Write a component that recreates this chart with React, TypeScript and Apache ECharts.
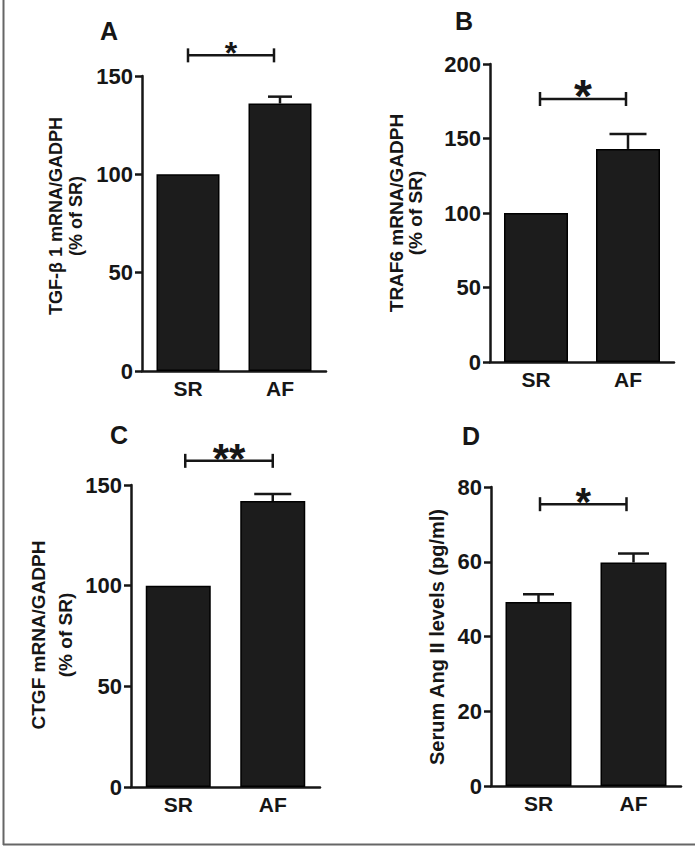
import React, { useEffect, useRef } from "react";
import * as echarts from "echarts";

// ---------- data ----------
const categories = ["SR", "AF"];
const panelLetters = ["A", "B", "C", "D"];
const yTitles = [
  "TGF-β 1 mRNA/GADPH\n(% of SR)",
  "TRAF6 mRNA/GADPH\n(% of SR)",
  "CTGF mRNA/GADPH\n(% of SR)",
  "Serum Ang II levels (pg/ml)",
];
const tgfMeans = [100, 136];
const tgfErr = [0, 3.5];
const traf6Means = [100, 143];
const traf6Err = [0, 10];
const ctgfMeans = [100, 142];
const ctgfErr = [0, 3.5];
const angMeans = [49.2, 59.8];
const angErr = [2.1, 2.4];
const yMax = [150, 200, 150, 80];
const yInterval = [50, 50, 50, 20];
const sigLabels = ["*", "*", "**", "*"];
const sigHeights = [160.5, 176.5, 162, 75.4];

const allMeans = [tgfMeans, traf6Means, ctgfMeans, angMeans];
const allErr = [tgfErr, traf6Err, ctgfErr, angErr];

// ---------- layout / style ----------
const FONT = "'Liberation Sans', Arial, Helvetica, sans-serif";
const INK = "#161616";
const grids = [
  { left: 142, top: 76, width: 184, height: 295 },
  { left: 490, top: 64, width: 184, height: 298 },
  { left: 131, top: 485, width: 189, height: 302 },
  { left: 491, top: 487, width: 190, height: 299 },
];
const barWidths = [63, 64, 65, 66];
const capWidths = [24, 37, 37, 31];
const bracketInsetL = [0, 4, 7, 1.5];
const bracketInsetR = [6, 2, 0, 7];
const starSizes = [32, 46, 42, 40];
const starGap = [10, 14, 12.5, 11];
const letterPos = [
  [109, 31],
  [464, 21],
  [119, 435],
  [471, 436],
];
const titlePos = [
  { x: 66, y: 216, lh: 20, fs: 18 },
  { x: 406, y: 213, lh: 19, fs: 19 },
  { x: 52, y: 635, lh: 27, fs: 19 },
  { x: 437, y: 637, lh: 20, fs: 20 },
];

export default function App() {
  const ref = useRef<HTMLDivElement>(null);
  useEffect(() => {
    if (!ref.current) return;
    const chart = echarts.init(ref.current, null, { renderer: "svg" });

    const xAxis: any[] = [];
    const yAxis: any[] = [];
    const series: any[] = [];
    const graphic: any[] = [];

    grids.forEach((g, i) => {
      xAxis.push({
        type: "category",
        gridIndex: i,
        data: categories,
        axisLine: { lineStyle: { color: INK, width: 2.5 } },
        axisTick: { alignWithLabel: true, length: 8, lineStyle: { color: INK, width: 2.5 } },
        axisLabel: { color: INK, fontFamily: FONT, fontWeight: "bold", fontSize: 21, margin: 7 },
        splitLine: { show: false },
      });
      yAxis.push({
        type: "value",
        gridIndex: i,
        min: 0,
        max: yMax[i],
        interval: yInterval[i],
        axisLine: { show: true, lineStyle: { color: INK, width: 2.5 } },
        axisTick: { show: true, length: 7, lineStyle: { color: INK, width: 2.5 } },
        axisLabel: { color: INK, fontFamily: FONT, fontWeight: "bold", fontSize: 22, margin: 9 },
        splitLine: { show: false },
      });
      series.push({
        type: "bar",
        xAxisIndex: i,
        yAxisIndex: i,
        data: allMeans[i],
        barWidth: barWidths[i],
        itemStyle: { color: "#1c1c1c", borderColor: "#000", borderWidth: 1.5 },
        z: 2,
      });
      const capW = capWidths[i];
      series.push({
        type: "custom",
        xAxisIndex: i,
        yAxisIndex: i,
        clip: false,
        z: 3,
        data: allMeans[i].map((m, k) => [k, m, allErr[i][k]]),
        encode: { x: 0, y: 1 },
        renderItem: (params: any, api: any) => {
          const k = api.value(0);
          const m = api.value(1);
          const e = api.value(2);
          if (!e) return { type: "group", children: [] };
          const base = api.coord([k, m]);
          const top = api.coord([k, m + e]);
          const st = { stroke: INK, lineWidth: 2.5 };
          return {
            type: "group",
            children: [
              { type: "line", shape: { x1: base[0], y1: base[1], x2: top[0], y2: top[1] }, style: st },
              { type: "line", shape: { x1: top[0] - capW / 2, y1: top[1], x2: top[0] + capW / 2, y2: top[1] }, style: st },
            ],
          };
        },
      });
      const inL = bracketInsetL[i];
      const inR = bracketInsetR[i];
      const fs = starSizes[i];
      const gap = starGap[i];
      series.push({
        type: "custom",
        xAxisIndex: i,
        yAxisIndex: i,
        clip: false,
        z: 3,
        data: [[0, 1, sigHeights[i]]],
        renderItem: (params: any, api: any) => {
          const h = api.value(2);
          const p0 = api.coord([api.value(0), h]);
          const p1 = api.coord([api.value(1), h]);
          const x0 = p0[0] + inL;
          const x1 = p1[0] - inR;
          const y = p0[1];
          const st = { stroke: INK, lineWidth: 2.5 };
          return {
            type: "group",
            children: [
              { type: "line", shape: { x1: x0, y1: y, x2: x1, y2: y }, style: st },
              { type: "line", shape: { x1: x0, y1: y - 7, x2: x0, y2: y + 7 }, style: st },
              { type: "line", shape: { x1: x1, y1: y - 7, x2: x1, y2: y + 7 }, style: st },
              {
                type: "text",
                x: (x0 + x1) / 2,
                y: y - gap + 0.23 * fs,
                style: {
                  text: sigLabels[i],
                  fill: INK,
                  font: `bold ${fs}px ${FONT}`,
                  align: "center",
                  verticalAlign: "middle",
                },
              },
            ],
          };
        },
      });

      graphic.push({
        type: "text",
        x: letterPos[i][0],
        y: letterPos[i][1],
        style: {
          text: panelLetters[i],
          fill: INK,
          font: `bold 25px ${FONT}`,
          align: "center",
          verticalAlign: "middle",
        },
      });
      const tp = titlePos[i];
      graphic.push({
        type: "text",
        x: tp.x,
        y: tp.y,
        rotation: Math.PI / 2,
        style: {
          text: yTitles[i],
          fill: INK,
          font: `bold ${tp.fs}px ${FONT}`,
          lineHeight: tp.lh,
          align: "center",
          verticalAlign: "middle",
        },
      });
    });

    graphic.push({
      type: "line",
      shape: { x1: 3.5, y1: 0, x2: 3.5, y2: 845 },
      style: { stroke: "#666", lineWidth: 2 },
    });
    graphic.push({
      type: "line",
      shape: { x1: 3, y1: 844.5, x2: 695, y2: 844.5 },
      style: { stroke: "#666", lineWidth: 2 },
    });

    chart.setOption({
      animation: false,
      backgroundColor: "#ffffff",
      grid: grids.map((g) => ({ ...g, containLabel: false })),
      xAxis,
      yAxis,
      series,
      graphic,
    });
    return () => chart.dispose();
  }, []);

  return (
    <div
      ref={ref}
      style={{ position: "fixed", left: 0, top: 0, width: 695, height: 848 }}
    />
  );
}
